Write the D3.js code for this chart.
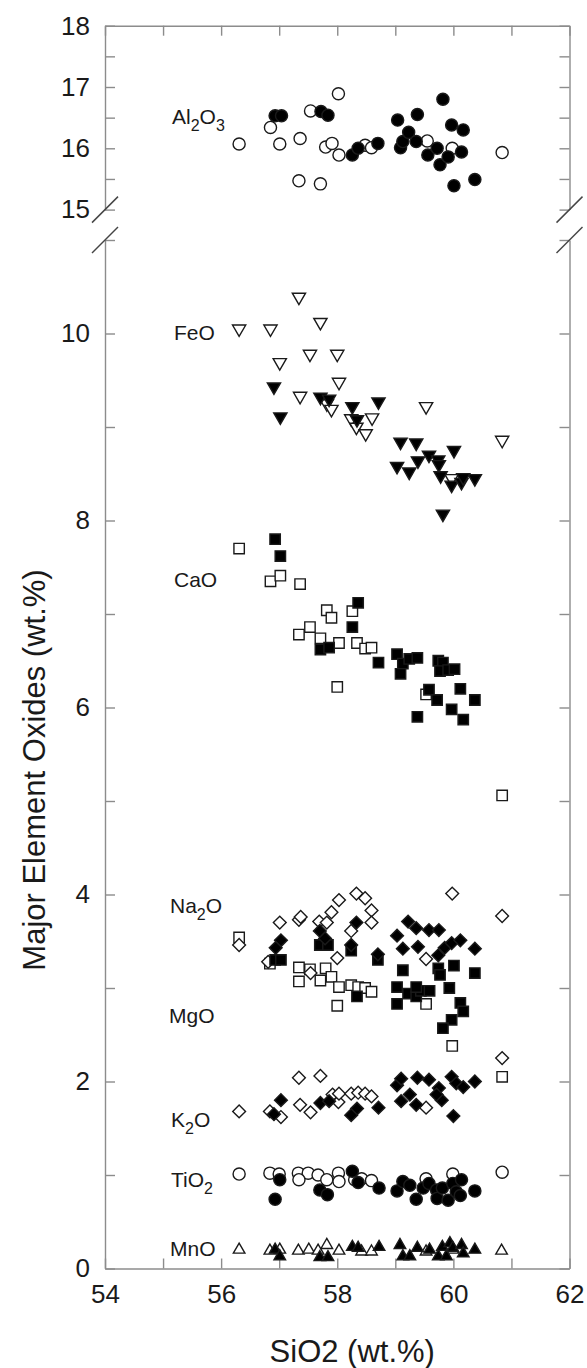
<!DOCTYPE html>
<html>
<head>
<meta charset="utf-8">
<script src="https://cdn.jsdelivr.net/npm/d3@7"></script>
<style>
  body { margin: 0; background: white; }
  svg { display: block; font-family: "Liberation Sans", Arial, sans-serif; }
</style>
</head>
<body>
<div id="chart"></div>
<script>
// SiO2 vs oxide, [SiO2, oxide] pairs
const al2o3Open = [[56.31,16.07],[56.85,16.34],[57.01,16.07],[57.36,16.16],[57.54,16.61],[57.34,15.47],[57.71,15.42],[58.02,16.89],[57.80,16.02],[57.91,16.08],[58.03,15.89],[58.48,16.05],[58.59,16.01],[59.55,16.12],[59.98,16.00],[60.84,15.93]]
const al2o3Fill = [[56.93,16.53],[57.04,16.53],[57.72,16.60],[57.84,16.54],[58.26,15.89],[58.36,16.00],[58.70,16.08],[59.04,16.46],[59.09,16.01],[59.13,16.11],[59.23,16.26],[59.38,16.55],[59.36,16.11],[59.56,15.89],[59.72,16.00],[59.77,15.73],[59.82,16.80],[59.91,15.86],[59.97,16.38],[60.01,15.39],[60.14,15.94],[60.17,16.30],[60.37,15.49]]

const feoOpen = [[56.31,10.05],[56.85,10.05],[57.34,10.39],[57.71,10.12],[57.01,9.69],[57.53,9.78],[58.00,9.78],[58.03,9.48],[57.36,9.33],[57.82,9.25],[57.90,9.19],[58.24,9.09],[58.33,9.00],[58.49,8.93],[58.60,9.10],[59.53,9.22],[60.84,8.86],[59.97,8.45]]
const feoFill = [[56.91,9.43],[57.02,9.11],[57.71,9.32],[57.86,9.30],[58.26,9.22],[58.34,9.08],[58.71,9.27],[59.09,8.84],[59.36,8.83],[60.01,8.75],[59.58,8.70],[59.74,8.65],[59.75,8.60],[59.03,8.58],[59.24,8.52],[59.39,8.64],[59.78,8.48],[59.97,8.38],[60.14,8.41],[60.37,8.45],[60.17,8.46],[59.82,8.07]]

const caoOpen = [[56.31,7.70],[56.85,7.35],[57.02,7.41],[57.36,7.32],[57.82,7.04],[57.90,6.96],[58.26,7.03],[57.34,6.78],[57.53,6.86],[57.71,6.74],[58.03,6.69],[58.34,6.69],[58.48,6.63],[58.59,6.64],[58.00,6.22],[59.53,6.14],[60.84,5.06]]
const caoFill = [[56.93,7.80],[57.02,7.62],[58.36,7.12],[58.26,6.86],[57.71,6.62],[57.86,6.64],[58.71,6.48],[59.03,6.57],[59.13,6.47],[59.09,6.36],[59.24,6.52],[59.38,6.53],[59.74,6.50],[59.82,6.48],[59.77,6.39],[59.91,6.40],[60.02,6.41],[59.58,6.19],[59.72,6.08],[60.12,6.20],[60.37,6.08],[59.97,5.98],[60.17,5.87],[59.38,5.90]]

const na2oOpen = [[56.31,3.46],[57.01,3.70],[57.34,3.73],[57.37,3.76],[56.81,3.28],[57.69,3.71],[57.90,3.81],[58.03,3.94],[57.82,3.70],[58.33,4.01],[58.48,3.96],[58.59,3.83],[58.59,3.70],[58.24,3.61],[58.00,3.32],[57.54,3.16],[59.53,3.31],[59.98,4.01],[60.84,3.77]]
const na2oFill = [[57.03,3.51],[56.94,3.43],[57.70,3.61],[57.79,3.53],[58.33,3.70],[58.24,3.46],[58.70,3.36],[59.03,3.56],[59.13,3.42],[59.22,3.71],[59.36,3.64],[59.39,3.44],[59.58,3.62],[59.75,3.62],[59.74,3.35],[59.85,3.43],[59.97,3.48],[60.12,3.51],[60.37,3.42]]

const mgoOpen = [[56.31,3.54],[56.84,3.26],[57.34,3.22],[57.34,3.07],[57.53,3.20],[57.71,3.08],[57.80,3.21],[57.90,3.12],[58.03,3.01],[58.24,3.03],[58.36,3.01],[58.48,3.00],[58.59,2.96],[58.00,2.81],[59.53,2.83],[59.98,2.38],[60.84,2.05]]
const mgoFill = [[56.93,3.30],[57.03,3.30],[57.70,3.46],[57.84,3.46],[58.24,3.40],[58.70,3.30],[58.34,2.91],[59.13,3.19],[59.03,3.01],[59.03,2.83],[59.22,2.94],[59.36,2.91],[59.44,2.97],[59.59,2.97],[59.36,3.01],[59.74,3.21],[59.77,3.14],[60.01,3.24],[59.93,3.00],[60.37,3.16],[60.12,2.84],[60.17,2.75],[59.97,2.66],[59.82,2.57]]

const k2oOpen = [[56.31,1.68],[56.84,1.68],[57.03,1.62],[57.34,2.04],[57.71,2.06],[57.36,1.75],[57.54,1.67],[58.02,1.78],[57.92,1.86],[58.03,1.87],[58.24,1.87],[58.36,1.88],[58.48,1.87],[58.59,1.84],[59.53,1.72],[60.84,2.25]]
const k2oFill = [[57.03,1.80],[56.91,1.65],[57.71,1.77],[57.86,1.79],[58.34,1.71],[58.24,1.64],[58.71,1.72],[59.03,1.96],[59.10,2.03],[59.38,2.04],[59.58,2.02],[59.10,1.79],[59.25,1.86],[59.36,1.75],[59.75,1.93],[59.80,1.80],[59.97,2.05],[60.05,1.98],[60.17,1.94],[60.37,2.00],[60.00,1.63],[59.71,1.86]]

const tio2Open = [[56.31,1.01],[56.84,1.02],[57.00,1.01],[57.33,1.02],[57.50,1.02],[57.67,1.00],[57.34,0.95],[57.82,0.95],[58.02,1.02],[58.03,0.93],[58.30,0.95],[58.42,0.96],[58.59,0.94],[59.53,0.96],[59.99,1.01],[60.84,1.03]]
const tio2Fill = [[57.01,0.95],[56.93,0.74],[57.70,0.84],[57.83,0.79],[58.26,1.04],[58.36,0.92],[58.72,0.86],[59.03,0.83],[59.13,0.93],[59.25,0.89],[59.36,0.74],[59.48,0.86],[59.58,0.91],[59.71,0.84],[59.72,0.75],[59.81,0.86],[59.91,0.73],[59.99,0.91],[60.05,0.82],[60.14,0.95],[60.12,0.78],[60.37,0.83]]

const mnoOpen = [[56.31,0.20],[56.84,0.19],[57.01,0.20],[57.33,0.19],[57.51,0.20],[57.67,0.19],[57.82,0.25],[58.03,0.19],[58.42,0.18],[58.59,0.18],[59.53,0.18],[59.99,0.20],[60.83,0.19]]
const mnoFill = [[56.93,0.20],[57.01,0.13],[57.70,0.12],[57.84,0.12],[58.26,0.23],[58.36,0.22],[58.72,0.23],[59.08,0.25],[59.13,0.13],[59.25,0.13],[59.38,0.22],[59.59,0.20],[59.74,0.13],[59.81,0.23],[59.94,0.27],[59.88,0.13],[59.99,0.22],[60.14,0.25],[60.17,0.16],[60.37,0.20]]

const xTicks = [54, 55, 56, 57, 58, 59, 60, 61, 62]
const yTopTicks = [15, 15.5, 16, 16.5, 17, 17.5, 18]
const yBotTicks = [0, 1, 2, 3, 4, 5, 6, 7, 8, 9, 10, 11]

const width = 587, height = 1368
const left = 105, right = 569.5

const svg = d3.select("#chart").append("svg")
    .attr("width", width)
    .attr("height", height)

const x = d3.scaleLinear().domain([54, 62]).range([left, right])
const yTop = d3.scaleLinear().domain([15, 18]).range([209.6, 25.7])
const yBot = d3.scaleLinear().domain([0, 11]).range([1268.5, 240])

const axisColor = "#8c8c8c"
const tickLen = 10

function styleAxis(g, showText) {
    g.select(".domain").attr("stroke", axisColor).attr("stroke-width", 1.4)
    g.selectAll(".tick line").attr("stroke", axisColor).attr("stroke-width", 1.4)
    g.selectAll(".tick text")
        .attr("fill", "#1a1a1a")
        .style("font-size", "26px")
        .style("font-family", "'Liberation Sans', Arial, sans-serif")
    if (!showText) g.selectAll(".tick text").remove()
}

// top panel (15-18)
svg.append("g")
    .attr("transform", "translate(" + left + ",0)")
    .call(d3.axisLeft(yTop).tickValues(yTopTicks).tickSizeInner(-tickLen).tickSizeOuter(0).tickPadding(15)
        .tickFormat(d => Number.isInteger(d) ? d : ""))
    .call(g => styleAxis(g, true))

svg.append("g")
    .attr("transform", "translate(" + right + ",0)")
    .call(d3.axisRight(yTop).tickValues(yTopTicks).tickSizeInner(-tickLen).tickSizeOuter(0))
    .call(g => styleAxis(g, false))

svg.append("g")
    .attr("transform", "translate(0," + yTop(18) + ")")
    .call(d3.axisTop(x).tickValues(xTicks).tickSizeInner(-tickLen).tickSizeOuter(0))
    .call(g => styleAxis(g, false))

// bottom panel (0-11)
svg.append("g")
    .attr("transform", "translate(" + left + ",0)")
    .call(d3.axisLeft(yBot).tickValues(yBotTicks).tickSizeInner(-tickLen).tickSizeOuter(0).tickPadding(15)
        .tickFormat(d => (d % 2 === 0 && d <= 10) ? d : ""))
    .call(g => styleAxis(g, true))

svg.append("g")
    .attr("transform", "translate(" + right + ",0)")
    .call(d3.axisRight(yBot).tickValues(yBotTicks).tickSizeInner(-tickLen).tickSizeOuter(0))
    .call(g => styleAxis(g, false))

svg.append("g")
    .attr("transform", "translate(0," + yBot(0) + ")")
    .call(d3.axisBottom(x).tickValues(xTicks).tickSizeInner(-tickLen).tickSizeOuter(0).tickPadding(16)
        .tickFormat(d => d % 2 === 0 ? d : ""))
    .call(g => styleAxis(g, true))

// axis break marks
const breaks = svg.append("g")
    .attr("stroke", "#444")
    .attr("stroke-width", 1.5)
;[left, right].forEach(bx => {
    [yTop(15), yBot(11)].forEach(by => {
        breaks.append("line")
            .attr("x1", bx - 13).attr("y1", by + 13)
            .attr("x2", bx + 13).attr("y2", by - 13)
    })
})

// markers
const shapes = {
    circle: d3.symbol(d3.symbolCircle, 115)(),
    square: d3.symbol(d3.symbolSquare, 108)(),
    diamond: d3.symbol(d3.symbolSquare, 82)(),
    tri: d3.symbol(d3.symbolTriangle, 76)(),
    triSmall: d3.symbol(d3.symbolTriangle, 58)()
}

function plot(data, yScale, shape, filled, rot) {
    svg.append("g").selectAll("path")
        .data(data)
        .join("path")
        .attr("d", shapes[shape])
        .attr("transform", d => "translate(" + x(d[0]) + "," + yScale(d[1]) + ")" + (rot ? " rotate(" + rot + ")" : ""))
        .attr("fill", filled ? "#000" : "#fff")
        .attr("stroke", "#1a1a1a")
        .attr("stroke-width", 1.4)
}

plot(al2o3Open, yTop, "circle", false)
plot(al2o3Fill, yTop, "circle", true)
plot(feoOpen, yBot, "tri", false, 180)
plot(feoFill, yBot, "tri", true, 180)
plot(caoOpen, yBot, "square", false)
plot(caoFill, yBot, "square", true)
plot(mgoOpen, yBot, "square", false)
plot(na2oOpen, yBot, "diamond", false, 45)
plot(mgoFill, yBot, "square", true)
plot(na2oFill, yBot, "diamond", true, 45)
plot(k2oOpen, yBot, "diamond", false, 45)
plot(k2oFill, yBot, "diamond", true, 45)
plot(tio2Open, yBot, "circle", false)
plot(tio2Fill, yBot, "circle", true)
plot(mnoOpen, yBot, "triSmall", false)
plot(mnoFill, yBot, "triSmall", true)

// oxide labels with subscripts
const labels = [
    { parts: [["Al"], ["2", 1], ["O"], ["3", 1]], x: 172, y: 124 },
    { parts: [["FeO"]], x: 174, y: 340 },
    { parts: [["CaO"]], x: 174, y: 587 },
    { parts: [["Na"], ["2", 1], ["O"]], x: 170, y: 913 },
    { parts: [["MgO"]], x: 169, y: 1023 },
    { parts: [["K"], ["2", 1], ["O"]], x: 171, y: 1127 },
    { parts: [["TiO"], ["2", 1]], x: 171, y: 1187 },
    { parts: [["MnO"]], x: 170, y: 1256 }
]

labels.forEach(l => {
    const t = svg.append("text")
        .attr("x", l.x)
        .attr("y", l.y)
        .attr("fill", "#1a1a1a")
        .style("font-size", "21px")
    let low = false
    l.parts.forEach(p => {
        const sub = p[1] === 1
        let dy = 0
        if (sub && !low) dy = 7
        if (!sub && low) dy = -7
        low = sub
        t.append("tspan")
            .attr("dy", dy)
            .style("font-size", sub ? "16px" : "21px")
            .text(p[0])
    })
})

// axis titles
svg.append("text")
    .attr("x", (left + right) / 2 + 15)
    .attr("y", 1362)
    .attr("text-anchor", "middle")
    .attr("fill", "#1a1a1a")
    .style("font-size", "31px")
    .text("SiO2 (wt.%)")

svg.append("text")
    .attr("transform", "translate(45, 770) rotate(-90)")
    .attr("text-anchor", "middle")
    .attr("fill", "#1a1a1a")
    .style("font-size", "31px")
    .text("Major Element Oxides (wt.%)")
</script>
</body>
</html>
